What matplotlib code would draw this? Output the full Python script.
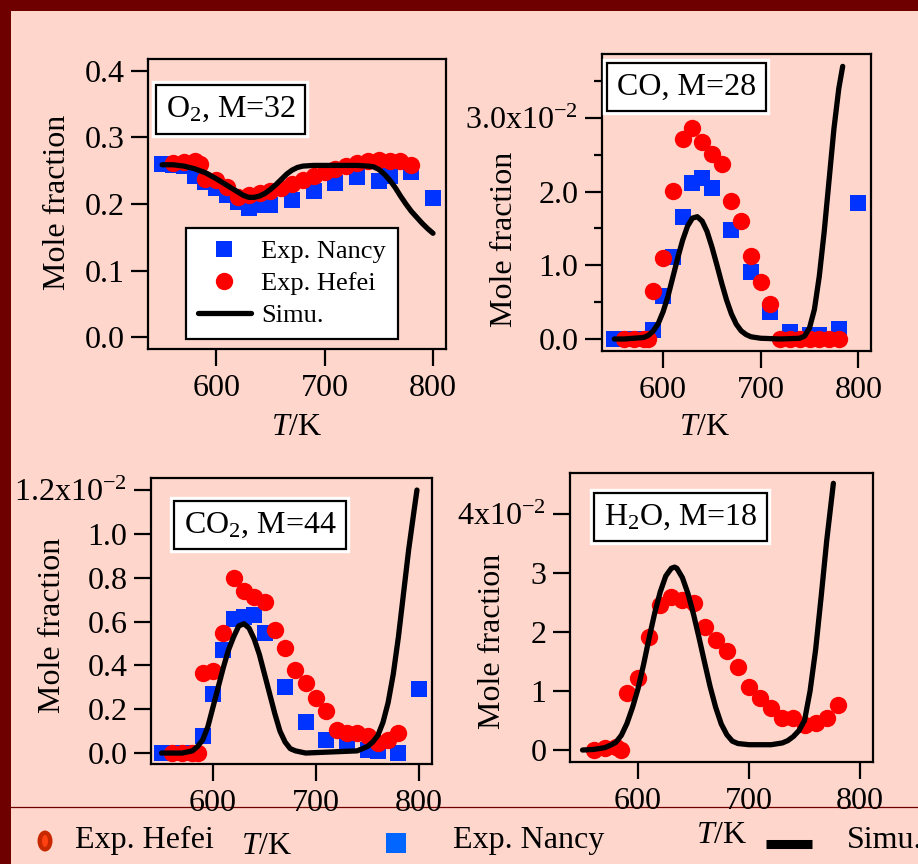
import matplotlib
matplotlib.use('Agg')
import matplotlib.pyplot as plt
from matplotlib.lines import Line2D
from matplotlib.patches import Rectangle, Ellipse
from matplotlib.ticker import FixedLocator, FixedFormatter
import matplotlib.patheffects as pe

plt.rcParams['font.family'] = ['Liberation Serif', 'DejaVu Serif']
plt.rcParams['mathtext.fontset'] = 'custom'
plt.rcParams['mathtext.rm'] = 'Liberation Serif'
plt.rcParams['mathtext.it'] = 'Liberation Serif:italic'
plt.rcParams['mathtext.default'] = 'regular'

PINK = '#FFD6CC'
MAROON = '#6E0000'
BLUE = '#0033FF'
RED = '#FF0000'

# ---- data ----
nancy_T = [550, 560, 570, 580, 590, 600, 610, 620, 630, 640, 650, 670, 690, 710, 730, 750, 760, 780, 800]
hefei_T = [560, 570, 580, 585, 590, 600, 610, 620, 630, 640, 650, 660, 670, 680, 690, 700, 710,
           720, 730, 740, 750, 760, 770, 780]

o2_nancy = [0.260, 0.258, 0.257, 0.242, 0.233, 0.224, 0.213, 0.203, 0.194, 0.199, 0.199, 0.206,
            0.220, 0.231, 0.240, 0.235, 0.242, 0.248, 0.209]
o2_hefei = [0.262, 0.263, 0.264, 0.260, 0.237, 0.236, 0.225, 0.211, 0.214, 0.217, 0.219, 0.224,
            0.230, 0.236, 0.242, 0.248, 0.253, 0.257, 0.261, 0.264, 0.266, 0.265, 0.264, 0.259]
o2_sim_T = [550, 560, 570, 580, 590, 600, 610, 620, 625, 630, 635, 640, 645, 650, 655, 660, 665,
            670, 675, 680, 690, 710, 730, 740, 745, 750, 755, 760, 765, 770, 775, 780, 785, 790,
            795, 800]
o2_sim = [0.259, 0.259, 0.257, 0.253, 0.247, 0.238, 0.228, 0.218, 0.213, 0.210, 0.210, 0.212,
          0.216, 0.222, 0.229, 0.237, 0.245, 0.251, 0.255, 0.257, 0.258, 0.258, 0.258, 0.257,
          0.256, 0.252, 0.245, 0.236, 0.225, 0.212, 0.200, 0.189, 0.180, 0.171, 0.163, 0.156]

co_nancy = [0, 0, 0, 0, 0.0012, 0.0058, 0.0111, 0.0166, 0.0212, 0.0218, 0.0205, 0.0148, 0.0091,
            0.0037, 0.0009, 0.0006, 0.0005, 0.0013, 0.0184]
co_hefei = [0, 0, 0, 0, 0.0065, 0.0110, 0.0201, 0.0272, 0.0287, 0.0267, 0.0251, 0.0237, 0.0187,
            0.0160, 0.0113, 0.0078, 0.0048, 0, 0, 0, 0, 0, 0, 0]
co_sim_T = [550, 560, 570, 580, 585, 590, 595, 600, 605, 610, 615, 620, 625, 630, 635, 640, 645,
            650, 655, 660, 665, 670, 675, 680, 685, 690, 700, 720, 740, 745, 750, 755, 760, 765,
            770, 775, 780, 784]
co_sim = [0.0, 0.0, 0.0001, 0.0002, 0.0005, 0.0011, 0.0021, 0.0037, 0.0058, 0.0084, 0.0110,
          0.0134, 0.0153, 0.0164, 0.0166, 0.0160, 0.0146, 0.0125, 0.0101, 0.0076, 0.0053, 0.0034,
          0.0020, 0.0011, 0.0006, 0.0003, 0.0001, 0.0, 0.0001, 0.0004, 0.0015, 0.0040, 0.0085,
          0.0145, 0.0215, 0.0285, 0.0340, 0.0370]

co2_nancy = [0, 0, 0, 0, 0.0008, 0.0027, 0.0047, 0.0061, 0.0062, 0.0063, 0.0055, 0.0030, 0.0014,
             0.0006, 0.0004, 0.00015, 0.0001, 0.0, 0.0029]
co2_hefei = [0, 0, 0, 0, 0.00365, 0.00375, 0.0055, 0.0080, 0.0074, 0.0071, 0.0069, 0.0056,
             0.0048, 0.0038, 0.0032, 0.0025, 0.0019, 0.00105, 0.0009, 0.0009, 0.0008, 0.00044,
             0.0006, 0.00093]
co2_sim_T = [550, 570, 580, 585, 590, 595, 600, 605, 610, 615, 620, 625, 630, 635, 640, 645, 650,
             655, 660, 665, 670, 675, 680, 690, 740, 750, 755, 760, 765, 770, 775, 780, 785, 790,
             795, 798]
co2_sim = [0.0, 0.0, 0.0001, 0.0003, 0.0006, 0.0012, 0.0021, 0.0030, 0.0039, 0.0047, 0.0053,
           0.0058, 0.0059, 0.0057, 0.0052, 0.0045, 0.0036, 0.0027, 0.0018, 0.0010, 0.0005,
           0.0002, 0.0001, 0.0, 0.0001, 0.0003, 0.0005, 0.0008, 0.0014, 0.0023, 0.0036, 0.0053,
           0.0073, 0.0093, 0.0110, 0.0120]

h2o_hefei = [0, 0.0003, 0.0005, 0.0, 0.0097, 0.0122, 0.0191, 0.0246, 0.0260, 0.0254, 0.0249,
             0.0209, 0.0186, 0.0167, 0.0140, 0.0107, 0.0088, 0.0071, 0.0054, 0.0054, 0.0042,
             0.0045, 0.0054, 0.0076]
h2o_sim_T = [550, 560, 570, 575, 580, 585, 590, 595, 600, 605, 610, 615, 620, 625, 630, 633, 635,
             640, 645, 650, 655, 660, 665, 670, 675, 680, 685, 690, 700, 720, 730, 735, 740, 745,
             750, 755, 760, 765, 770, 776]
h2o_sim = [0.0, 0.0001, 0.0004, 0.0008, 0.0013, 0.0025, 0.0045, 0.0072, 0.0104, 0.0145, 0.0190,
           0.0232, 0.0268, 0.0295, 0.0308, 0.0310, 0.0308, 0.0292, 0.0265, 0.0230, 0.0190,
           0.0148, 0.0107, 0.0072, 0.0044, 0.0026, 0.0015, 0.0011, 0.0009, 0.0009, 0.0012,
           0.0016, 0.0023, 0.0033, 0.0050, 0.0100, 0.0170, 0.0260, 0.0355, 0.0452]

x_ticks = [600, 700, 800]
o2_yticks = [0, 0.1, 0.2, 0.3, 0.4]
o2_ylabels = ['0.0', '0.1', '0.2', '0.3', '0.4']
co_yticks = [0, 0.01, 0.02, 0.03]
co_ylabels = ['0.0', '1.0', '2.0', '3.0x10$^{-2}$']
co_yminor = [0.005, 0.015, 0.025, 0.035]
co2_yticks = [0, 0.002, 0.004, 0.006, 0.008, 0.010, 0.012]
co2_ylabels = ['0.0', '0.2', '0.4', '0.6', '0.8', '1.0', '1.2x10$^{-2}$']
h2o_yticks = [0, 0.01, 0.02, 0.03, 0.04]
h2o_ylabels = ['0', '1', '2', '3', '4x10$^{-2}$']

FS = 23

fig = plt.figure(figsize=(9.18, 8.64), dpi=100, facecolor=PINK)


def px_axes(x0, y0, x1, y1):
    return fig.add_axes([x0 / 918, 1 - y1 / 864, (x1 - x0) / 918, (y1 - y0) / 864])


def style(ax, xlim, ylim, yticks, ylabels, title, title_xy, xlab_xy, ylab_xy):
    ax.set_facecolor(PINK)
    ax.set_xlim(*xlim)
    ax.set_ylim(*ylim)
    for s in ax.spines.values():
        s.set_linewidth(1.6)
    ax.xaxis.set_major_locator(FixedLocator(x_ticks))
    ax.yaxis.set_major_locator(FixedLocator(yticks))
    ax.yaxis.set_major_formatter(FixedFormatter(ylabels))
    ax.tick_params(axis='both', which='major', length=12, width=1.6, labelsize=FS,
                   direction='out')
    ax.tick_params(axis='x', pad=6)
    ax.tick_params(axis='y', pad=5)
    ax.set_xlabel(r'$\mathit{T}$/K', fontsize=FS)
    ax.xaxis.set_label_coords(*xlab_xy)
    ax.xaxis.label.set_verticalalignment('center')
    ax.set_ylabel('Mole fraction', fontsize=FS)
    ax.yaxis.set_label_coords(*ylab_xy)
    ax.yaxis.label.set_verticalalignment('center')
    t = ax.text(title_xy[0], title_xy[1], title, transform=ax.transAxes, fontsize=FS,
                ha='center', va='center', zorder=10,
                bbox=dict(boxstyle='square,pad=0.3', facecolor='white', edgecolor='black',
                          linewidth=1.6))
    t.get_bbox_patch().set_path_effects([pe.withStroke(linewidth=6, foreground='white')])


def draw(ax, nancy, hefei, sim_T, sim):
    if nancy is not None:
        ax.plot(nancy_T, nancy, 's', color=BLUE, ms=12, mew=0, zorder=3, label='Exp. Nancy')
    ax.plot(hefei_T, hefei, 'o', color=RED, ms=12.5, mew=0, zorder=4, label='Exp. Hefei')
    ax.plot(sim_T, sim, '-', color='black', lw=3.8, zorder=5, label='Simu.',
            solid_capstyle='round')


# O2
ax1 = px_axes(148, 59, 446, 349)
draw(ax1, o2_nancy, o2_hefei, o2_sim_T, o2_sim)
style(ax1, (537, 812), (-0.018, 0.418), o2_yticks, o2_ylabels, 'O$_2$, M=32',
      (0.277, 0.826), (0.5, -0.272), (-0.305, 0.507))
leg = ax1.legend(loc='upper left', bbox_to_anchor=(0.128, 0.417), fontsize=19,
                 frameon=True, fancybox=False, edgecolor='black', facecolor='white',
                 framealpha=1, handlelength=2.0, handletextpad=0.4, labelspacing=0.32,
                 borderpad=0.45, borderaxespad=0)
leg.get_frame().set_linewidth(1.6)
leg.set_zorder(10)

# CO
ax2 = px_axes(602, 54, 871, 351)
draw(ax2, co_nancy, co_hefei, co_sim_T, co_sim)
style(ax2, (537.4, 813), (-0.00163, 0.03868), co_yticks, co_ylabels, 'CO, M=28',
      (0.314, 0.889), (0.383, -0.259), (-0.364, 0.377))
ax2.yaxis.set_minor_locator(FixedLocator(co_yminor))
ax2.tick_params(axis='y', which='minor', length=6, width=1.6)

# CO2
ax3 = px_axes(151, 478, 432, 764)
draw(ax3, co2_nancy, co2_hefei, co2_sim_T, co2_sim)
style(ax3, (539.8, 812.6), (-0.0005, 0.01255), co2_yticks, co2_ylabels, 'CO$_2$, M=44',
      (0.388, 0.836), (0.413, -0.287), (-0.352, 0.486))

# H2O
ax4 = px_axes(570, 473, 873, 762)
draw(ax4, None, h2o_hefei, h2o_sim_T, h2o_sim)
style(ax4, (538.7, 811.7), (-0.00203, 0.04695), h2o_yticks, h2o_ylabels, 'H$_2$O, M=18',
      (0.366, 0.848), (0.502, -0.256), (-0.257, 0.419))

# frame decorations
fig.add_artist(Rectangle((0, 1 - 11 / 864), 1, 11 / 864, transform=fig.transFigure,
                         facecolor=MAROON, edgecolor='none', zorder=-1))
fig.add_artist(Rectangle((0, 0), 11 / 918, 1, transform=fig.transFigure,
                         facecolor=MAROON, edgecolor='none', zorder=-1))
fig.add_artist(Line2D([11 / 918, 1], [1 - 807 / 864] * 2, transform=fig.transFigure,
                      color=MAROON, lw=0.9, zorder=-1))

# bottom legend
yb = 1 - 848 / 864
fig.add_artist(Ellipse((45 / 918, 1 - 841 / 864), 15 / 918, 21 / 864, transform=fig.transFigure,
                       facecolor='#C82800', edgecolor='none'))
fig.add_artist(Ellipse((45 / 918, 1 - 841 / 864), 6 / 918, 12 / 864, transform=fig.transFigure,
                       facecolor='#FF4010', edgecolor='none'))
fig.text(75 / 918, yb, 'Exp. Hefei', fontsize=FS, va='baseline', ha='left')
fig.add_artist(Line2D([396 / 918], [1 - 843 / 864], transform=fig.transFigure, marker='s',
                      ms=14, mew=0, color='#0066FF', linestyle='none'))
fig.text(453 / 918, yb, 'Exp. Nancy', fontsize=FS, va='baseline', ha='left')
fig.add_artist(Line2D([766 / 918, 812 / 918], [1 - 843.5 / 864] * 2, transform=fig.transFigure,
                      color='black', lw=6.5, solid_capstyle='butt'))
fig.text(847 / 918, yb, 'Simu.', fontsize=FS, va='baseline', ha='left')

fig.savefig('out.png', dpi=100, facecolor=PINK)
